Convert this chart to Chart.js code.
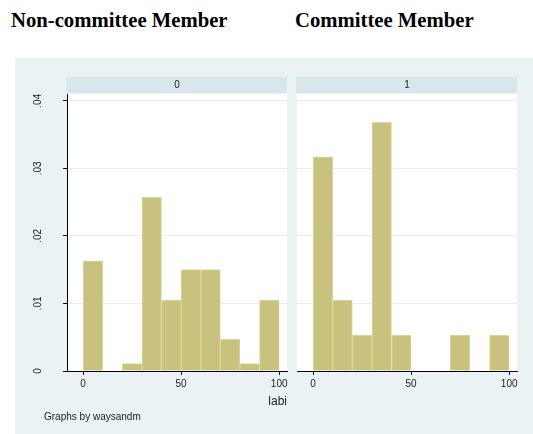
<!DOCTYPE html>
<html>
<head>
<meta charset="utf-8">
<title>labi by waysandm</title>
<script src="https://cdn.jsdelivr.net/npm/chart.js@4.4.1/dist/chart.umd.min.js"></script>
<style>
  body { margin: 0; background: #fff; }
  #wrap { position: relative; width: 533px; height: 434px; overflow: hidden; font-family: "Liberation Sans", Arial, sans-serif; }
  .head { position: absolute; top: 9px; line-height: 20px; font: bold 20.7px "Liberation Serif", "Times New Roman", serif; color: #000; white-space: nowrap; }
  #panel { position: absolute; left: 15px; top: 58px; right: 0; bottom: 0; background: #eaf2f3; }
  canvas { position: absolute; left: 0; top: 0; }
  #note { position: absolute; left: 44px; top: 411px; font-size: 10px; line-height: 12px; color: #222; }
</style>
</head>
<body>
<div id="wrap">
  <div class="head" style="left:11px">Non-committee Member</div>
  <div class="head" style="left:295px">Committee Member</div>
  <div id="panel"></div>
  <canvas id="c0" width="533" height="434"></canvas>
  <canvas id="c1" width="533" height="434"></canvas>
  <div id="note">Graphs by waysandm</div>
</div>
<script>
// histogram bins of labi (start of each bin), width 10
const bins = [0, 10, 20, 30, 40, 50, 60, 70, 80, 90];
const binWidth = 10;
// density per bin, waysandm = 0 and waysandm = 1
const densityNonCommittee = [0.0163, 0, 0.0011, 0.0257, 0.0105, 0.0150, 0.0150, 0.0047, 0.0011, 0.0105];
const densityCommittee = [0.0317, 0.0105, 0.0053, 0.0368, 0.0053, 0, 0, 0.0053, 0, 0.0053];
const xTicks = [0, 50, 100];
const yTicks = [0, 0.01, 0.02, 0.03, 0.04];
const yTickLabels = ['0', '.01', '.02', '.03', '.04'];
const panelLabels = ['0', '1'];
const xTitle = 'labi';

const family = '"Liberation Sans", Arial, sans-serif';

// white plot region + the "by" strip above each panel
const facetPlugin = {
  id: 'facet',
  beforeDraw(chart, args, opts) {
    const { ctx, chartArea: a } = chart;
    ctx.save();
    ctx.fillStyle = '#fff';
    ctx.fillRect(a.left, a.top, a.right - a.left, a.bottom - a.top);
    ctx.fillStyle = '#d9e6eb';
    ctx.fillRect(a.left - 1, a.top - 17, a.right - a.left + 1, 16);
    ctx.fillStyle = '#222';
    ctx.font = '10px ' + family;
    ctx.textAlign = 'center';
    ctx.textBaseline = 'middle';
    ctx.fillText(opts.label, (a.left + a.right) / 2, a.top - 9);
    ctx.restore();
  }
};

function makeChart(id, values, label, first) {
  return new Chart(document.getElementById(id), {
    type: 'bar',
    data: {
      datasets: [{
        data: bins.map((b, i) => ({ x: b + binWidth / 2, y: values[i] })),
        backgroundColor: '#c9c27e',
        borderColor: '#dcd8a4',
        borderWidth: 1,
        borderSkipped: 'start',
        categoryPercentage: 1,
        barPercentage: 1
      }]
    },
    options: {
      responsive: false,
      animation: false,
      devicePixelRatio: 1,
      layout: { padding: { left: 0, top: 94, right: first ? 246 : 16, bottom: 22 } },
      plugins: {
        legend: { display: false },
        tooltip: { enabled: false },
        facet: { label: label }
      },
      scales: {
        x: {
          type: 'linear',
          min: -8.2,
          max: 104,
          offset: false,
          afterBuildTicks: s => { s.ticks = xTicks.map(v => ({ value: v })); },
          afterFit: s => { s.height = 41; },
          grid: { drawOnChartArea: false, offset: false, tickLength: 4, tickColor: '#000' },
          border: { color: '#000', width: 1 },
          ticks: { padding: 3, maxRotation: 0, color: '#222', font: { size: 10, family: family } },
          title: {
            display: first,
            text: xTitle,
            align: 'end',
            color: '#222',
            font: { size: 12, family: family },
            padding: { top: 0, bottom: 3 }
          }
        },
        y: {
          min: 0,
          max: 0.041,
          afterBuildTicks: s => { s.ticks = yTicks.map(v => ({ value: v })); },
          afterFit: s => { s.width = first ? 67 : 297; },
          grid: { color: '#e6eef1', drawTicks: first, tickLength: 4, tickColor: '#000' },
          border: { display: first, color: '#000', width: 1 },
          ticks: {
            display: first,
            padding: 18,
            crossAlign: 'center',
            minRotation: 90,
            maxRotation: 90,
            color: '#222',
            font: { size: 10, family: family },
            callback: (v, i) => yTickLabels[i]
          }
        }
      }
    },
    plugins: [facetPlugin]
  });
}

makeChart('c0', densityNonCommittee, panelLabels[0], true);
makeChart('c1', densityCommittee, panelLabels[1], false);
</script>
</body>
</html>
